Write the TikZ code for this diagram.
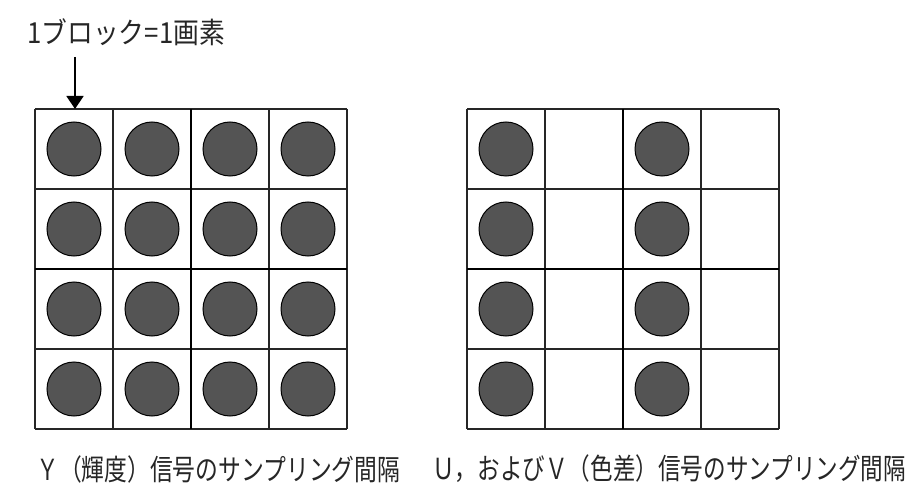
\documentclass[tikz,border=0pt]{standalone}
\usepackage{fontspec}
\newfontfamily\jp{Noto Sans CJK JP}
\usetikzlibrary{arrows.meta}
\tikzset{
  thinline/.style={line width=1.3pt, draw=black!85},
  thickline/.style={line width=2.6pt, draw=black},
  dot/.style={circle, minimum size=54pt, inner sep=0pt, fill=black!67, draw=black, line width=1pt},
  txt/.style={font=\jp\fontsize{20}{22}\selectfont, inner sep=0pt, text=black!85},
}
\begin{document}
\begin{tikzpicture}[x=1pt,y=-1pt]
\useasboundingbox (0,0) rectangle (911,484);
% left grid
\foreach \i in {0,1,2,3}{\foreach \j in {0,1,2,3}{
  \node[dot] (L\i\j) at ({35+78*\i+39},{109+80*\j+40}) {};
}}
\foreach \i in {0,1,3,4}{\draw[thinline] ({35+78*\i},109) -- ({35+78*\i},429);}
\foreach \j in {0,1,3,4}{\draw[thinline] (35,{109+80*\j}) -- (347,{109+80*\j});}
\draw[thickline] (191,109) -- (191,429);
\draw[thickline] (35,269) -- (347,269);
% right grid
\foreach \i in {0,2}{\foreach \j in {0,1,2,3}{
  \node[dot] (R\i\j) at ({467+78*\i+39},{109+80*\j+40}) {};
}}
\foreach \i in {0,1,3,4}{\draw[thinline] ({467+78*\i},109) -- ({467+78*\i},429);}
\foreach \j in {0,1,3,4}{\draw[thinline] (467,{109+80*\j}) -- (779,{109+80*\j});}
\draw[thickline] (623,109) -- (623,429);
\draw[thickline] (467,269) -- (779,269);
% labels
\node[txt, anchor=west] (top) at (27,32) {\scalebox{1.29}[1.45]{1ブロック=1画素}};
\coordinate (tip) at (75,109);
\coordinate (tail) at (75,57);
\draw[line width=1.5pt, -{Triangle[width=17pt,length=13pt]}] (tail) -- (tip);
\node[txt, anchor=west] (ylab) at (36,469) {\scalebox{1.14}[1.45]{Ｙ（輝度）信号のサンプリング間隔}};
\node[txt, anchor=west] (uvlab) at (432,469) {\scalebox{1.13}[1.45]{Ｕ，およびＶ（色差）信号のサンプリング間隔}};
\end{tikzpicture}
\end{document}
